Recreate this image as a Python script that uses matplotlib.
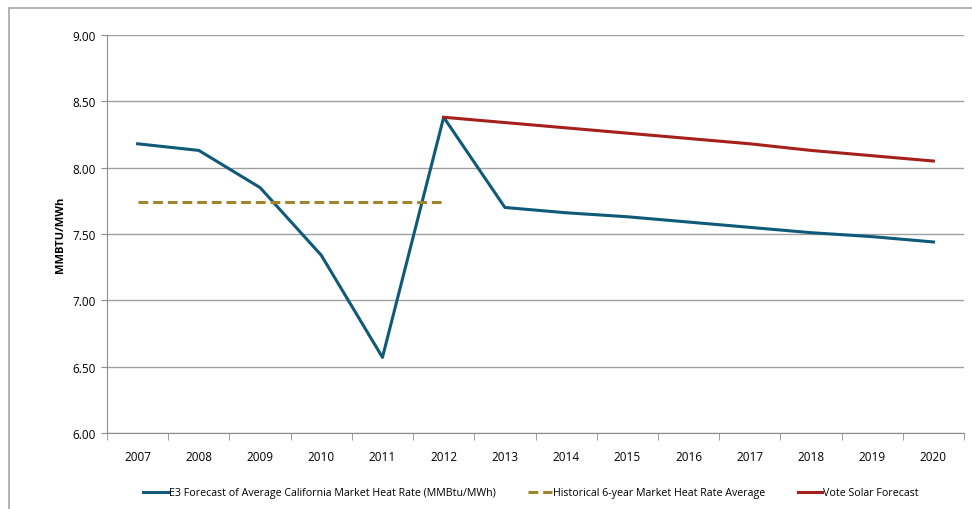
import matplotlib.pyplot as plt
from matplotlib.patches import Rectangle

years = [str(y) for y in range(2007, 2021)]
e3_forecast = [8.18, 8.13, 7.85, 7.34, 6.57, 8.38, 7.70, 7.66, 7.63, 7.59, 7.55, 7.51, 7.48, 7.44]
hist_years = years[:6]
hist_avg = [7.74, 7.74, 7.74, 7.74, 7.74, 7.74]
vote_years = years[5:]
vote_solar = [8.38, 8.34, 8.30, 8.26, 8.22, 8.18, 8.13, 8.09, 8.05]
y_ticks = [6.0, 6.5, 7.0, 7.5, 8.0, 8.5, 9.0]

plt.rcParams['font.family'] = ['Open Sans', 'DejaVu Sans']

fig = plt.figure(figsize=(9.72, 5.10), dpi=100)
# outer chart border (cropped on the right and bottom like the source)
fig.patches.append(Rectangle((9 / 972, -0.05), 1.0, 1 - 9 / 510 + 0.05,
                             transform=fig.transFigure, fill=False,
                             edgecolor='#a6a6a6', linewidth=1.2))

ax = fig.add_axes([107 / 972, 1 - 434 / 510, (964 - 107) / 972, (434 - 36) / 510])

x = list(range(len(years)))
ax.plot(x, e3_forecast, color='#0f5a78', linewidth=2.2,
        label='E3 Forecast of Average California Market Heat Rate (MMBtu/MWh)')
ax.plot(x[:6], hist_avg, color='#a0852c', linewidth=2.2, linestyle=(0, (3.2, 1.6)),
        label='Historical 6-year Market Heat Rate Average')
ax.plot(x[5:], vote_solar, color='#a51f1b', linewidth=2.2, label='Vote Solar Forecast')

ax.set_xlim(-0.5, len(years) - 0.5)
ax.set_ylim(6.0, 9.0)
ax.set_yticks(y_ticks)
ax.set_yticklabels(['%.2f' % v for v in y_ticks])
ax.set_xticks(x)
ax.set_xticklabels(years)
ax.set_xticks([i - 0.5 for i in range(len(years) + 1)], minor=True)
ax.tick_params(axis='x', which='major', length=0, pad=12, labelsize=8.5)
ax.tick_params(axis='x', which='minor', length=5, color='#8c8c8c')
ax.tick_params(axis='y', length=4, color='#8c8c8c', labelsize=8.5, pad=4)

ax.grid(axis='y', color='#a0a0a0', linewidth=1.0)
ax.set_axisbelow(True)
for side in ['top', 'right']:
    ax.spines[side].set_visible(False)
for side in ['left', 'bottom']:
    ax.spines[side].set_color('#8c8c8c')

ax.set_ylabel('MMBTU/MWh', fontweight='bold', fontsize=8, labelpad=5)

fig.legend(loc='center', bbox_to_anchor=(531 / 972, 1 - 494 / 510), ncol=3,
           frameon=False, fontsize=7.7, handlelength=2.3, handletextpad=0.1,
           columnspacing=3.0)

fig.savefig('out.png', dpi=100)
